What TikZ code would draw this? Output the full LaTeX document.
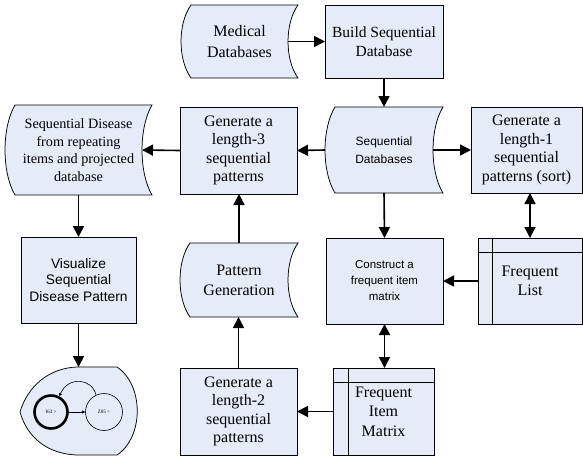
\documentclass[tikz,border=0pt]{standalone}
\usepackage{fontspec}
\setmainfont{Liberation Serif}
\setsansfont{Liberation Sans}
\usetikzlibrary{arrows.meta,calc}
\definecolor{boxfill}{RGB}{230,235,248}
\tikzset{
  shapeline/.style={draw=black,line width=0.75pt,fill=boxfill},
  txt/.style={inner sep=0pt,outer sep=0pt,align=center},
  boxnode/.style={txt,shapeline},
  conn/.style={line width=1.6pt,-{Triangle[length=11pt,width=11pt]}},
  dconn/.style={line width=1.6pt,{Triangle[length=11pt,width=11pt]}-{Triangle[length=11pt,width=11pt]}},
}
% tape-like shape: name, x0, y0, x1, y1, font, text
\newcommand\tapenode[7]{%
  \path[shapeline] ({#2+10},#3) -- (#4,#3)
    .. controls ({#4-13.3},{#3+(#5-#3)/4}) and ({#4-13.3},{#5-(#5-#3)/4}) .. (#4,#5)
    -- ({#2+10},#5)
    .. controls ({#2-3.3},{#5-(#5-#3)/4}) and ({#2-3.3},{#3+(#5-#3)/4}) .. cycle;
  \node[txt,font=#6,minimum width={(#4-#2)*1pt},minimum height={(#5-#3)*1pt}]
    (#1) at ({(#2+#4)/2},{(#3+#5)/2}) {#7};}
% rectangle node: name, x0, y0, x1, y1, font, text
\newcommand\rectnode[7]{%
  \node[boxnode,font=#6,minimum width={(#4-#2)*1pt},minimum height={(#5-#3)*1pt}]
    (#1) at ({(#2+#4)/2},{(#3+#5)/2}) {#7};}
\begin{document}
\begin{tikzpicture}[x=1pt,y=-1pt]
\useasboundingbox (0,0) rectangle (583,459);
% row 1
\tapenode{med}{181}{5}{298}{78}{\fontsize{16}{20.5}\selectfont}{Medical\\Databases}
\rectnode{build}{325}{5}{443}{78}{\fontsize{15.5}{19}\selectfont}{Build Sequential\\Database}
% row 2
\tapenode{seqdis}{5}{105}{152}{195}{\fontsize{14.2}{17.5}\selectfont}{Sequential Disease\\from repeating\\items and projected\\database}
\rectnode{gen3}{180}{107}{297}{194}{\fontsize{16}{18.5}\selectfont}{Generate a\\length-3\\sequential\\patterns}
\tapenode{seqdb}{325}{107}{443}{193}{\sffamily\fontsize{12}{18}\selectfont}{Sequential\\Databases}
\rectnode{gen1}{471}{107}{582}{193}{\fontsize{16}{18.5}\selectfont}{Generate a\\length-1\\sequential\\patterns (sort)}
% row 3
\rectnode{vis}{21}{237}{136}{323}{\sffamily\fontsize{13.8}{16.5}\selectfont}{Visualize\\Sequential\\Disease Pattern}
\tapenode{patgen}{180}{243}{298}{317}{\fontsize{16}{20}\selectfont}{Pattern\\Generation}
\rectnode{cons}{326}{238}{443}{324}{\sffamily\fontsize{11.5}{16}\selectfont}{Construct a\\frequent item\\matrix}
\rectnode{flist}{478}{238}{582}{324}{\fontsize{16}{19}\selectfont}{Frequent\\List}
\draw[line width=0.75pt] ([yshift=-14pt]flist.north west) -- ([yshift=-14pt]flist.north east);
\draw[line width=0.75pt] ([xshift=14pt]flist.north west) -- ([xshift=14pt]flist.south west);
% row 4
\rectnode{gen2}{180}{368}{297}{455}{\fontsize{16}{18.5}\selectfont}{Generate a\\length-2\\sequential\\patterns}
\rectnode{fim}{333}{368}{434}{455}{\fontsize{16}{19.5}\selectfont}{Frequent\\Item\\Matrix}
\draw[line width=0.75pt] ([yshift=-14pt]fim.north west) -- ([yshift=-14pt]fim.north east);
\draw[line width=0.75pt] ([xshift=15pt]fim.north west) -- ([xshift=15pt]fim.south west);
% display shape
\path[shapeline] (20,412) .. controls (28,385) and (50,368) .. (77,367) -- (117,367)
  .. controls (144,385) and (144,437) .. (117,455) -- (77,455)
  .. controls (50,454) and (28,440) .. (20,412);
\node[txt,minimum width=117pt,minimum height=88pt] (disp) at (78.5,411) {};
\node[circle,draw,line width=2.6pt,minimum size=33pt,inner sep=0pt,font=\fontsize{5}{5}\selectfont] (c1) at (51,412) {I63 >};
\node[circle,draw,line width=0.6pt,minimum size=37pt,inner sep=0pt,font=\fontsize{5}{5}\selectfont] (c2) at (104,412) {Z05 >};
\draw[line width=0.6pt,-{Triangle[length=3pt,width=3pt]}] (c1) -- (c2);
\draw[line width=0.6pt,-{Triangle[length=3pt,width=3pt]}] (c2.115) .. controls (92,378) and (68,376) .. (c1.62);
% connectors
\draw[conn] ([xshift=-10pt]med.east) -- (build.west);
\draw[conn] (build.south) -- (seqdb.north);
\draw[conn] (seqdb.west) -- (gen3.east);
\draw[conn] (gen3.west) -- ([xshift=-10pt]seqdis.east);
\draw[conn] ([xshift=-10pt]seqdb.east) -- (gen1.west);
\draw[conn] (seqdb.south) -- (cons.north);
\draw[dconn] (flist.north |- gen1.south) -- (flist.north);
\draw[conn] (flist.west) -- (cons.east);
\draw[dconn] (cons.south) -- (cons.south |- fim.north);
\draw[conn] (fim.west) -- (gen2.east);
\draw[conn] (gen2.north) -- (gen2.north |- patgen.south);
\draw[conn] (patgen.north) -- (patgen.north |- gen3.south);
\draw[conn] (seqdis.south) -- (vis.north);
\draw[conn] (vis.south) -- (disp.north);
\end{tikzpicture}
\end{document}
